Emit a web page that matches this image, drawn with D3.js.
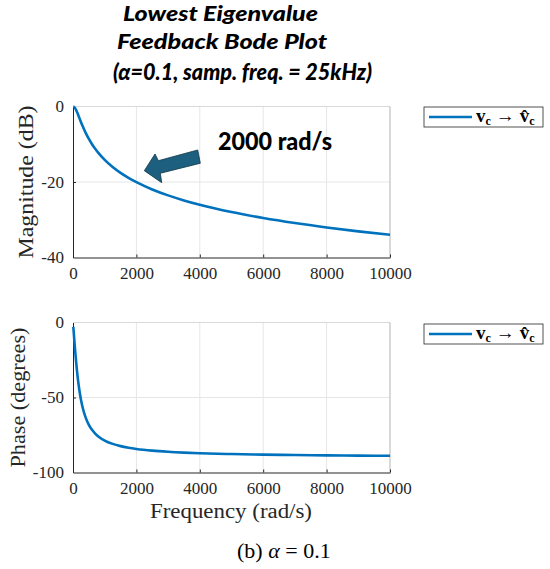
<!DOCTYPE html>
<html>
<head>
<meta charset="utf-8">
<script src="https://cdn.jsdelivr.net/npm/d3@7/dist/d3.min.js"></script>
<style>
  html, body { margin: 0; padding: 0; background: #fff; }
  svg { display: block; }
  .tick text { font-family: "Liberation Serif", "DejaVu Serif", serif; fill: #262626; }
</style>
</head>
<body>
<div id="chart"></div>
<script>
// Frequency response of the lowest-eigenvalue feedback loop (alpha = 0.1)
const frequency = [10, 25, 50, 75, 100, 150, 200, 250, 300, 400, 500, 600, 700, 800, 1000,
  1250, 1500, 1750, 2000, 2500, 3000, 3500, 4000, 5000, 6000, 7000, 8000, 9000, 10000];
const magnitudeDb = [-0.01, -0.07, -0.26, -0.57, -0.97, -1.94, -3.01, -4.09, -5.12, -6.99, -8.60,
  -10.00, -11.22, -12.30, -14.15, -16.03, -17.58, -18.90, -20.04, -21.97, -23.54, -24.87, -26.03,
  -27.97, -29.55, -30.88, -32.04, -33.07, -33.98];
const phaseDeg = [-2.86, -7.13, -14.04, -20.56, -26.57, -36.87, -45.00, -51.34, -56.31, -63.43,
  -68.20, -71.57, -74.05, -75.96, -78.69, -80.91, -82.41, -83.48, -84.29, -85.43, -86.19, -86.73,
  -87.14, -87.71, -88.09, -88.36, -88.57, -88.73, -88.85];

const freqTicks = [0, 2000, 4000, 6000, 8000, 10000];
const magTicks = [-40, -20, 0];
const phaseTicks = [-100, -50, 0];

const titleLines = ["Lowest Eigenvalue", "Feedback Bode Plot", "(\u03b1=0.1, samp. freq. = 25kHz)"];
const calloutText = "2000 rad/s";
const calloutPoint = [2250, -17];   // where the arrow tip sits (rad/s, dB)

const W = 550, H = 569;
const blue = "#0072BD";
const axisDark = "#262626";
const gridColor = "#e6e6e6";
const serif = "Liberation Serif, DejaVu Serif, serif";
const sans = "Lato, Open Sans, sans-serif";

const svg = d3.select("#chart").append("svg").attr("width", W).attr("height", H);

const x = d3.scaleLinear().domain([0, 10000]).range([73, 390]);

const panels = [
  { y: d3.scaleLinear().domain([-40, 0]).range([257.5, 106.5]), ticks: magTicks, values: magnitudeDb,
    label: "Magnitude (dB)", labelX: 33, labelLen: 153, legendY: 107 },
  { y: d3.scaleLinear().domain([-100, 0]).range([472.5, 322.5]), ticks: phaseTicks, values: phaseDeg,
    label: "Phase (degrees)", labelX: 25, labelLen: 140, legendY: 324 }
];

const plainNumber = d => String(d);

panels.forEach((p) => {
  const g = svg.append("g");
  const [y0, y1] = p.y.range();
  const [x0, x1] = x.range();

  // grid
  g.selectAll(".gx").data(freqTicks.slice(1, -1)).join("line")
    .attr("x1", d => x(d)).attr("x2", d => x(d)).attr("y1", y0).attr("y2", y1)
    .attr("stroke", gridColor).attr("stroke-width", 1);
  g.selectAll(".gy").data(p.ticks.slice(1, -1)).join("line")
    .attr("x1", x0).attr("x2", x1).attr("y1", d => p.y(d)).attr("y2", d => p.y(d))
    .attr("stroke", gridColor).attr("stroke-width", 1);

  // box: light top/right edges
  g.append("line").attr("x1", x0).attr("x2", x1).attr("y1", y1).attr("y2", y1)
    .attr("stroke", "#d9d9d9").attr("stroke-width", 1);
  g.append("line").attr("x1", x1).attr("x2", x1).attr("y1", y0).attr("y2", y1)
    .attr("stroke", "#b3b3b3").attr("stroke-width", 1);

  // axes
  const xAxis = d3.axisBottom(x).tickValues(freqTicks).tickFormat(plainNumber)
    .tickSizeInner(-3).tickSizeOuter(0).tickPadding(9);
  const gx = g.append("g").attr("transform", `translate(0,${y0})`).call(xAxis);
  gx.selectAll("text").attr("font-size", 17);
  gx.select(".domain").attr("stroke", axisDark);
  gx.selectAll(".tick line").attr("stroke", axisDark);

  const yAxis = d3.axisLeft(p.y).tickValues(p.ticks).tickFormat(plainNumber)
    .tickSizeInner(-3).tickSizeOuter(0).tickPadding(9);
  const gy = g.append("g").attr("transform", `translate(${x0},0)`).call(yAxis);
  gy.selectAll("text").attr("font-size", 17);
  gy.select(".domain").attr("stroke", axisDark);
  gy.selectAll(".tick line").attr("stroke", axisDark);
  gx.selectAll(".tick").filter(d => d === 0).select("line").remove();
  gy.selectAll(".tick").filter(d => d === 0 || d === p.ticks[0]).select("line").remove();

  // response curve
  const line = d3.line().x(d => x(d[0])).y(d => p.y(d[1])).curve(d3.curveMonotoneX);
  g.append("path").datum(frequency.map((f, k) => [f, p.values[k]]))
    .attr("d", line).attr("fill", "none").attr("stroke", blue).attr("stroke-width", 2.6)
    .attr("stroke-linejoin", "round");

  // y label
  g.append("text")
    .attr("transform", `translate(${p.labelX},${(y0 + y1) / 2}) rotate(-90)`)
    .attr("text-anchor", "middle")
    .attr("font-family", serif)
    .attr("font-size", 20).attr("fill", axisDark)
    .attr("textLength", p.labelLen).attr("lengthAdjust", "spacingAndGlyphs")
    .text(p.label);

  // legend
  const lg = g.append("g").attr("transform", `translate(424,${p.legendY})`);
  lg.append("rect").attr("x", 0).attr("y", 0).attr("width", 119).attr("height", 20)
    .attr("fill", "#fff").attr("stroke", "#262626").attr("stroke-width", 0.8);
  lg.append("line").attr("x1", 5).attr("x2", 48).attr("y1", 10).attr("y2", 10)
    .attr("stroke", blue).attr("stroke-width", 2.6);
  const lt = lg.append("text").attr("x", 52).attr("y", 15)
    .attr("font-family", serif)
    .attr("font-weight", "bold").attr("font-size", 19).attr("fill", "#000");
  lt.append("tspan").text("v");
  lt.append("tspan").attr("font-size", 12).attr("dy", 2.5).text("c");
  lt.append("tspan").attr("dy", -2.5).attr("font-weight", "normal").attr("font-size", 19)
    .attr("dx", 5).text("\u2192");
  lt.append("tspan").attr("dx", 5).text("v\u0302");
  lt.append("tspan").attr("font-size", 12).attr("dy", 2.5).text("c");
});

// x label
svg.append("text").attr("x", 231).attr("y", 518).attr("text-anchor", "middle")
  .attr("font-family", serif)
  .attr("font-size", 20).attr("fill", axisDark)
  .attr("textLength", 162).attr("lengthAdjust", "spacingAndGlyphs")
  .text("Frequency (rad/s)");

// title
const titleSpec = [
  { x: 123, y: 20.5, len: 195, size: 21 },
  { x: 117, y: 48.5, len: 210, size: 21 },
  { x: 113, y: 79.5, len: 259, size: 22 }
];
svg.selectAll(".title").data(titleLines).join("text")
  .attr("x", (d, i) => titleSpec[i].x).attr("y", (d, i) => titleSpec[i].y)
  .attr("font-family", sans)
  .attr("font-weight", 900).attr("font-style", "italic")
  .attr("font-size", (d, i) => titleSpec[i].size)
  .attr("fill", "#000")
  .attr("textLength", (d, i) => titleSpec[i].len).attr("lengthAdjust", "spacingAndGlyphs")
  .text(d => d);

// callout arrow toward the 2000 rad/s point
const magPanel = panels[0];
const tipX = x(calloutPoint[0]), tipY = magPanel.y(calloutPoint[1]);
const arrowShape = [[0, 0], [10.7, -16.7], [14, -10], [53.4, -20.7], [56, -7.4], [16, 2.6], [17.4, 12]];
svg.append("path")
  .attr("d", "M" + arrowShape.map(([dx, dy]) => `${tipX + dx},${tipY + dy}`).join("L") + "Z")
  .attr("fill", "#1c5f7e").attr("stroke", "#0f3346").attr("stroke-width", 0.8)
  .attr("stroke-linejoin", "miter");

svg.append("text").attr("x", 218).attr("y", 150)
  .attr("font-family", sans)
  .attr("font-weight", 900).attr("font-size", 24).attr("fill", "#000")
  .attr("textLength", 114).attr("lengthAdjust", "spacingAndGlyphs")
  .text(calloutText);

// caption
const cap = svg.append("text").attr("x", 237).attr("y", 558)
  .attr("font-family", serif)
  .attr("font-size", 22).attr("fill", "#000");
cap.append("tspan").text("(b) ");
cap.append("tspan").attr("font-style", "italic").text("\u03b1");
cap.append("tspan").text(" = 0.1");
</script>
</body>
</html>
